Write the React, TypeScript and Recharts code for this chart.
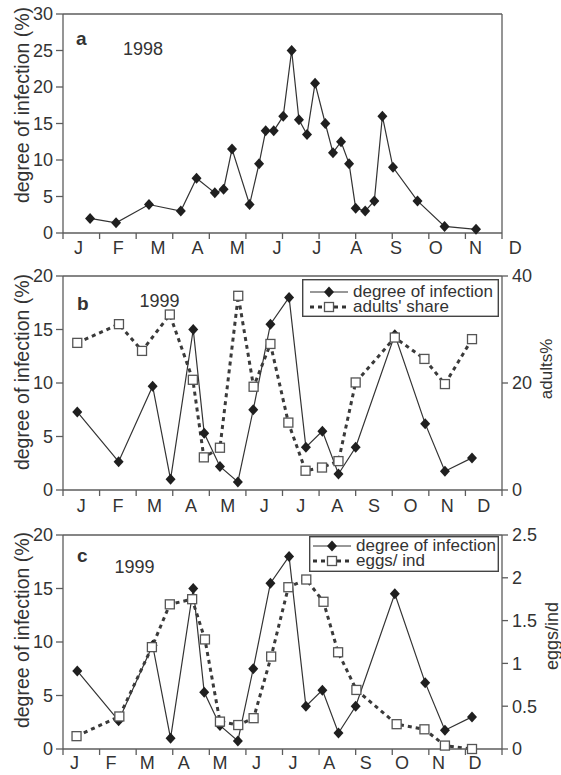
import React from 'react';
import { LineChart, Line, XAxis, YAxis, Legend } from 'recharts';

const MONTHS = ['J', 'F', 'M', 'A', 'M', 'J', 'J', 'A', 'S', 'O', 'N', 'D'];
const MONTH_EDGES = [0, 1, 2, 3, 4, 5, 6, 7, 8, 9, 10, 11, 12];

// 1998, sampling date as month fraction
const dates98 = [0.74, 1.45, 2.35, 3.22, 3.65, 4.15, 4.39, 4.62, 5.1, 5.36, 5.54, 5.76, 6.02, 6.25, 6.45,
  6.67, 6.89, 7.17, 7.38, 7.6, 7.82, 8.0, 8.26, 8.51, 8.73, 9.02, 9.69, 10.43, 11.29];
const infection98 = [2, 1.4, 3.9, 3, 7.5, 5.5, 6, 11.5, 3.9, 9.5, 14, 14, 16, 25, 15.5,
  13.5, 20.5, 15, 11, 12.5, 9.5, 3.4, 3, 4.4, 16, 9, 4.4, 0.9, 0.5];

// 1999
const dates99 = [0.39, 1.52, 2.45, 2.94, 3.56, 3.86, 4.29, 4.78, 5.2, 5.67, 6.18, 6.64, 7.09, 7.53, 8.0,
  9.07, 9.9, 10.44, 11.18];
const infection99 = [7.3, 2.65, 9.7, 1.0, 15, 5.3, 2.2, 0.75, 7.5, 15.5, 18, 4, 5.5, 1.5, 4,
  14.5, 6.2, 1.75, 3];

const datesAdults99 = [0.39, 1.53, 2.16, 2.92, 3.55, 3.85, 4.29, 4.79, 5.21, 5.67, 6.16, 6.63, 7.08, 7.53, 8.0,
  9.07, 9.88, 10.44, 11.18];
const adultsShare99 = [27.5, 31, 26, 32.8, 20.6, 6.1, 7.9, 36.3, 19.3, 27.3, 12.6, 3.6, 4.2, 5.4, 20.1,
  28.5, 24.5, 19.8, 28.2];

const datesEggs99 = [0.37, 1.54, 2.43, 2.92, 3.53, 3.88, 4.29, 4.79, 5.21, 5.69, 6.16, 6.65, 7.12, 7.52, 8.02,
  9.12, 9.88, 10.44, 11.18];
const eggsPerInd99 = [0.15, 0.38, 1.19, 1.69, 1.75, 1.28, 0.32, 0.28, 0.36, 1.08, 1.89, 1.98, 1.72, 1.13, 0.69,
  0.29, 0.23, 0.04, 0];

const ticks30 = [0, 5, 10, 15, 20, 25, 30];
const ticks20 = [0, 5, 10, 15, 20];
const adultsTicks = [0, 20, 40];
const eggsTicks = [0, 0.5, 1, 1.5, 2, 2.5];

const zip = (xs: number[], ys: number[]) => xs.map((m, i) => ({ m, v: ys[i] }));
const rows98 = zip(dates98, infection98);
const rowsInf99 = zip(dates99, infection99);
const rowsAdults99 = zip(datesAdults99, adultsShare99);
const rowsEggs99 = zip(datesEggs99, eggsPerInd99);

const AXIS = '#5c5c5c';
const INK = '#333';
const FONT = "'Liberation Sans', Arial, sans-serif";
const LEFT = 63;
const RIGHT = 59;
const PLOT_W = 561 - LEFT - RIGHT;

const Diamond = (p: any) => {
  const { cx, cy, index } = p;
  if (cx == null || cy == null) return <g key={index} />;
  return (
    <path key={index} d={`M${cx} ${cy - 5.5}L${cx + 5} ${cy}L${cx} ${cy + 5.5}L${cx - 5} ${cy}Z`} fill="#1f1f1f" />
  );
};

const Square = (p: any) => {
  const { cx, cy, index } = p;
  if (cx == null || cy == null) return <g key={index} />;
  return <rect key={index} x={cx - 4.5} y={cy - 4.5} width={9} height={9} fill="#fff" stroke="#555" strokeWidth={1.3} />;
};

// month letters sit between the tick marks; in the scanned panels they drift a little
const MonthTick = (p: any) => {
  const { x, y, index, start, step } = p;
  if (index >= MONTHS.length) return <g />;
  const w = PLOT_W / 12;
  const cx = x + (start + index * (step - 1)) * w;
  return (
    <text x={cx} y={y} dy="0.71em" textAnchor="middle" fontSize={18} fill={INK} fontFamily={FONT}>
      {MONTHS[index]}
    </text>
  );
};

function BoxLegend({ payload, w, h, sx, tx, b1, b2 }: any) {
  // solid series first, like the original key
  const items = [...(payload || [])].sort((a: any, b: any) =>
    (a.payload && a.payload.strokeDasharray ? 1 : 0) - (b.payload && b.payload.strokeDasharray ? 1 : 0));
  return (
    <svg width={w} height={h} style={{ display: 'block', overflow: 'visible' }}>
      <rect x={0.7} y={0.7} width={w - 1.4} height={h - 1.4} fill="#fff" stroke="#444" strokeWidth={1.4} />
      {items.map((it: any, i: number) => {
        const base = i === 0 ? b1 : b2;
        const y = base - 5;
        const dashed = !!(it.payload && it.payload.strokeDasharray);
        const mid = sx + 19;
        return (
          <g key={i}>
            {dashed ? (
              <>
                <line x1={sx} x2={sx + 38} y1={y} y2={y} stroke="#333" strokeWidth={3} strokeDasharray="4 4" />
                <rect x={mid - 4.5} y={y - 4.5} width={9} height={9} fill="#fff" stroke="#555" strokeWidth={1.3} />
              </>
            ) : (
              <>
                <line x1={sx} x2={sx + 38} y1={y} y2={y} stroke="#333" strokeWidth={1.2} />
                <path d={`M${mid} ${y - 5.5}L${mid + 5} ${y}L${mid} ${y + 5.5}L${mid - 5} ${y}Z`} fill="#1f1f1f" />
              </>
            )}
            <text x={tx} y={base} fontSize={17} fill={INK} fontFamily={FONT}>{it.value}</text>
          </g>
        );
      })}
    </svg>
  );
}

function Panel(props: any) {
  const { top, height, margin, yMax, yTicks, rightMax, rightTicks, labels, axisHeight, second, legend } = props;
  const axisLine = { stroke: AXIS, strokeWidth: 1.3 };
  const tickStyle = { fill: INK, fontSize: 18 };
  return (
    <div style={{ position: 'absolute', left: 0, top, width: 561, height }}>
      <LineChart width={561} height={height} margin={margin}>
        <XAxis xAxisId="t" type="number" dataKey="m" domain={[0, 12]} ticks={MONTH_EDGES} allowDataOverflow
          interval={0} height={axisHeight} tickSize={6} tickMargin={labels.gap} tickLine={axisLine} axisLine={axisLine}
          tick={(tp: any) => <MonthTick {...tp} start={labels.start} step={labels.step} />} />
        <XAxis xAxisId="top" orientation="top" type="number" domain={[0, 12]} height={1}
          tick={false} tickLine={false} axisLine={axisLine} />
        <YAxis yAxisId="l" type="number" domain={[0, yMax]} ticks={yTicks} interval={0} width={1}
          tickSize={7} tickMargin={3} tickLine={axisLine} axisLine={axisLine} tick={tickStyle} />
        {rightTicks ? (
          <YAxis yAxisId="r" orientation="right" type="number" domain={[0, rightMax]} ticks={rightTicks}
            interval={0} width={1} tickSize={6} tickMargin={4} tickLine={axisLine} axisLine={axisLine} tick={tickStyle} />
        ) : (
          <YAxis yAxisId="r" orientation="right" type="number" domain={[0, yMax]} width={1}
            tick={false} tickLine={false} axisLine={axisLine} />
        )}
        <Line xAxisId="t" yAxisId="l" data={props.main} dataKey="v" name="degree of infection"
          stroke="#333" strokeWidth={1.2} dot={Diamond} activeDot={false} isAnimationActive={false} />
        {second && (
          <Line xAxisId="t" yAxisId="r" data={second.rows} dataKey="v" name={second.name}
            stroke="#3a3a3a" strokeWidth={3} strokeDasharray="4 4" dot={Square} activeDot={false}
            isAnimationActive={false} />
        )}
        {legend && (
          <Legend layout="vertical" align="center" verticalAlign="middle"
            wrapperStyle={{ position: 'absolute', left: legend.left, top: legend.top, width: legend.w, height: legend.h, margin: 0, padding: 0 }}
            content={(lp: any) => <BoxLegend {...lp} {...legend} />} />
        )}
      </LineChart>
    </div>
  );
}

export default function App() {
  return (
    <div style={{ position: 'absolute', left: 0, top: 0, width: 561, height: 775, background: '#fff', fontFamily: FONT, overflow: 'hidden' }}>
      <Panel top={0} height={262} margin={{ top: 13, right: RIGHT - 1, bottom: 1, left: LEFT - 1 }} axisHeight={28}
        yMax={30} yTicks={ticks30} labels={{ start: 0.424, step: 1.085, gap: 2.5 }} main={rows98} />
      <Panel top={262} height={258} margin={{ top: 13, right: RIGHT - 1, bottom: 2, left: LEFT - 1 }} axisHeight={28}
        yMax={20} yTicks={ticks20} rightMax={40} rightTicks={adultsTicks} labels={{ start: 0.5, step: 1, gap: 3 }}
        main={rowsInf99} second={{ rows: rowsAdults99, name: "adults' share" }}
        legend={{ left: 302, top: 17, w: 197, h: 38, sx: 8, tx: 51, b1: 18, b2: 33 }} />
      <Panel top={520} height={255} margin={{ top: 14, right: RIGHT - 1, bottom: 0, left: LEFT - 1 }} axisHeight={26}
        yMax={20} yTicks={ticks20} rightMax={2.5} rightTicks={eggsTicks} labels={{ start: 0.314, step: 0.995, gap: 1.5 }}
        main={rowsInf99} second={{ rows: rowsEggs99, name: 'eggs/ ind' }}
        legend={{ left: 309, top: 16, w: 190, h: 36, sx: 4, tx: 47, b1: 15, b2: 30 }} />
      <svg width={561} height={775} style={{ position: 'absolute', left: 0, top: 0, pointerEvents: 'none' }}
        fontFamily={FONT} fill={INK}>
        <text x={76} y={45} fontSize={19} fontWeight="bold">a</text>
        <text x={123} y={55} fontSize={18}>1998</text>
        <text x={77} y={310} fontSize={19} fontWeight="bold">b</text>
        <text x={139.5} y={307} fontSize={18}>1999</text>
        <text x={77} y={562} fontSize={19} fontWeight="bold">c</text>
        <text x={114.5} y={573} fontSize={18}>1999</text>
        <text transform="translate(21.5,105) rotate(-90)" textAnchor="middle" dominantBaseline="central" fontSize={19.5}>degree of infection (%)</text>
        <text transform="translate(21.5,372) rotate(-90)" textAnchor="middle" dominantBaseline="central" fontSize={19.5}>degree of infection (%)</text>
        <text transform="translate(21.5,630) rotate(-90)" textAnchor="middle" dominantBaseline="central" fontSize={19.5}>degree of infection (%)</text>
        <text transform="translate(546,369) rotate(-90)" textAnchor="middle" dominantBaseline="central" fontSize={17}>adults%</text>
        <text transform="translate(552,636) rotate(-90)" textAnchor="middle" dominantBaseline="central" fontSize={18}>eggs/ind</text>
      </svg>
    </div>
  );
}
